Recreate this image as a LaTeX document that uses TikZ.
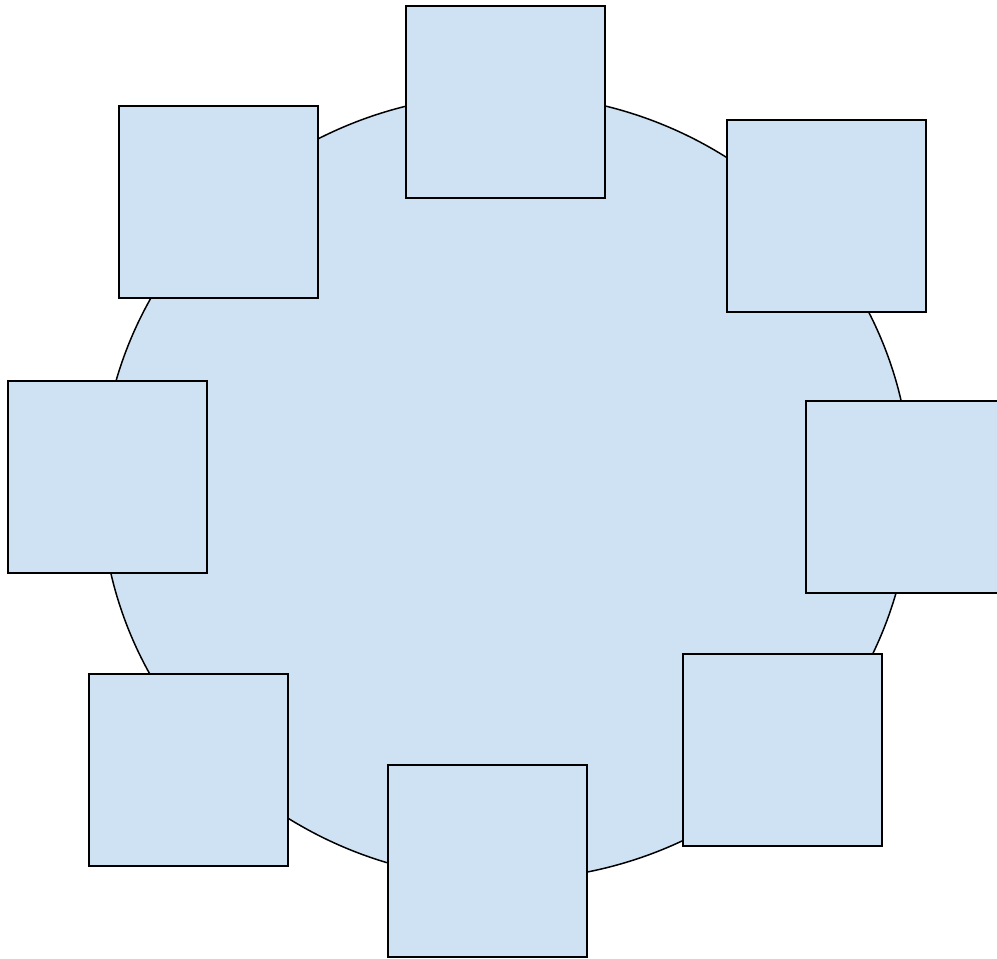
\documentclass[tikz,border=0pt]{standalone}
\usepackage{xcolor}
\usetikzlibrary{shapes.geometric}
\definecolor{ink}{HTML}{000000}
\definecolor{pale}{HTML}{CFE2F3}
\tikzset{
  every picture/.style={line width=0.85pt, draw=ink},
  disc/.style={ellipse, draw=ink, fill=pale, inner sep=0pt, minimum width=16.2cm, minimum height=15.72cm},
  tile/.style={rectangle, draw=ink, fill=pale, line width=1pt, inner sep=0pt, minimum width=3.98cm, minimum height=3.84cm},
}
\begin{document}
\begin{tikzpicture}[x=0.02cm, y=-0.02cm]
\useasboundingbox (0,0) rectangle (997,958);
\node[disc] (hub) at (506,487) {};
\foreach \name/\px/\py in {north/505.5/102, northwest/218.5/202, northeast/826.5/216,
  west/107.5/477, east/905.5/497, southwest/188.5/770, south/487.5/861, southeast/782.5/750}
  \node[tile] (\name) at (\px,\py) {};
\end{tikzpicture}
\end{document}
